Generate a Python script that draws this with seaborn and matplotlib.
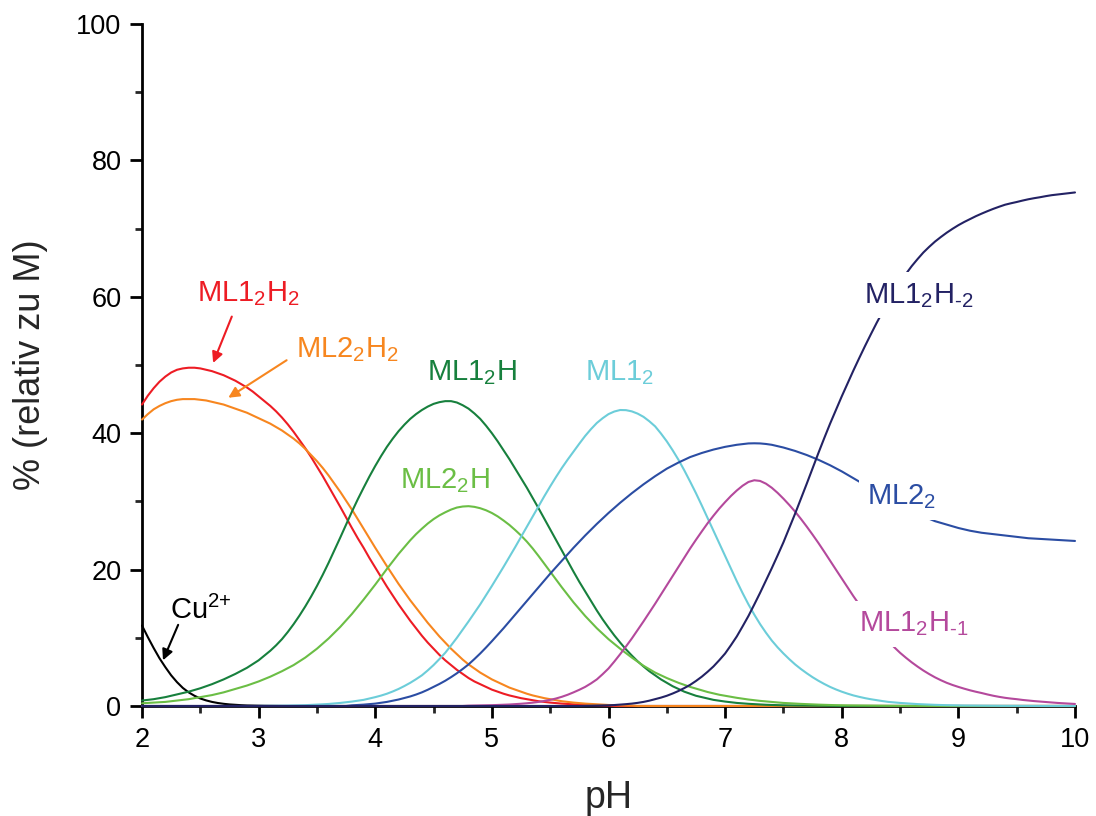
import numpy as np
import pandas as pd
import matplotlib
matplotlib.use("Agg")
import matplotlib.pyplot as plt
from matplotlib.ticker import MultipleLocator
import seaborn as sns

# ---------------- data (pH step 0.05) ----------------
ph = [round(2.0 + 0.05 * i, 2) for i in range(161)]


def full(vals):
    """values not listed past the end of a series are read as 0 %"""
    assert len(vals) <= len(ph)
    return vals + [0.0] * (len(ph) - len(vals))


cu = [11.8, 10.1, 8.5, 7.0, 5.7, 4.5, 3.5, 2.65, 2.0, 1.5, 1.1, 0.82, 0.6, 0.44,
      0.32, 0.23, 0.17, 0.12, 0.08, 0.06, 0.04, 0.03, 0.02, 0.01]

ml1_2h2 = [44.2, 45.5, 46.6, 47.55, 48.3, 48.9, 49.3, 49.5, 49.6, 49.6,
           49.5, 49.3, 49.1, 48.8, 48.5, 48.1, 47.7, 47.2, 46.7, 46.1,
           45.4, 44.7, 44.0, 43.2, 42.3, 41.3, 40.2, 39.0, 37.8, 36.5,
           35.1, 33.7, 32.2, 30.7, 29.2, 27.65, 26.1, 24.6, 23.2, 21.7,
           20.3, 18.9, 17.5, 16.2, 14.9, 13.7, 12.5, 11.4, 10.3, 9.3,
           8.4, 7.5, 6.7, 6.0, 5.3, 4.7, 4.1, 3.6, 3.2, 2.8,
           2.4, 2.1, 1.8, 1.55, 1.35, 1.15, 1.0, 0.85, 0.7, 0.6,
           0.5, 0.42, 0.35, 0.3, 0.25, 0.2, 0.15, 0.12, 0.1, 0.07, 0.05]

ml2_2h2 = [42.0, 42.8, 43.5, 44.0, 44.4, 44.7, 44.9, 45.0, 45.0, 45.0,
           44.9, 44.8, 44.6, 44.4, 44.2, 43.9, 43.6, 43.3, 43.0, 42.6,
           42.2, 41.8, 41.4, 40.9, 40.4, 39.8, 39.2, 38.5, 37.7, 36.8,
           35.9, 34.9, 33.8, 32.6, 31.4, 30.1, 28.8, 27.4, 26.0, 24.6,
           23.2, 21.85, 20.5, 19.2, 17.9, 16.7, 15.5, 14.4, 13.3, 12.2,
           11.2, 10.2, 9.3, 8.4, 7.6, 6.8, 6.1, 5.5, 4.9, 4.4,
           3.9, 3.5, 3.1, 2.7, 2.4, 2.1, 1.8, 1.55, 1.35, 1.15,
           1.0, 0.85, 0.7, 0.6, 0.5, 0.42, 0.35, 0.3, 0.25, 0.2,
           0.15, 0.12, 0.1, 0.07, 0.05]

ml1_2h = [0.8, 0.9, 1.0, 1.15, 1.3, 1.5, 1.7, 1.9, 2.1, 2.35,
          2.6, 2.9, 3.2, 3.55, 3.9, 4.3, 4.7, 5.15, 5.6, 6.15,
          6.7, 7.4, 8.1, 8.9, 9.8, 10.85, 12.0, 13.25, 14.6, 16.05,
          17.6, 19.25, 21.0, 22.85, 24.7, 26.6, 28.5, 30.3, 32.0, 33.65,
          35.2, 36.65, 38.0, 39.2, 40.3, 41.25, 42.1, 42.8, 43.4, 43.9,
          44.3, 44.55, 44.7, 44.7, 44.5, 44.1, 43.6, 42.9, 42.1, 41.1,
          40.0, 38.8, 37.5, 36.2, 34.8, 33.4, 32.0, 30.5, 29.0, 27.45,
          25.9, 24.35, 22.8, 21.25, 19.7, 18.2, 16.8, 15.4, 14.0, 12.7,
          11.5, 10.35, 9.3, 8.3, 7.4, 6.55, 5.8, 5.1, 4.5, 3.9,
          3.4, 2.9, 2.5, 2.1, 1.8, 1.5, 1.3, 1.1, 0.9, 0.77,
          0.65, 0.55, 0.45, 0.38, 0.32, 0.27, 0.22, 0.18, 0.15, 0.12,
          0.1, 0.08, 0.07, 0.06, 0.05, 0.04, 0.03, 0.025, 0.02]

ml2_2h = [0.4, 0.45, 0.5, 0.55, 0.6, 0.7, 0.8, 0.9, 1.0, 1.15,
          1.3, 1.45, 1.6, 1.8, 2.0, 2.25, 2.5, 2.75, 3.0, 3.3,
          3.6, 3.95, 4.3, 4.7, 5.1, 5.55, 6.0, 6.55, 7.1, 7.75,
          8.4, 9.15, 9.9, 10.75, 11.6, 12.55, 13.5, 14.55, 15.6, 16.7,
          17.8, 18.95, 20.1, 21.2, 22.3, 23.3, 24.3, 25.2, 26.0, 26.75,
          27.4, 27.95, 28.4, 28.8, 29.1, 29.25, 29.3, 29.2, 29.0, 28.7,
          28.3, 27.8, 27.2, 26.55, 25.8, 25.0, 24.1, 23.1, 22.0, 20.85,
          19.7, 18.55, 17.4, 16.3, 15.2, 14.2, 13.2, 12.3, 11.4, 10.6,
          9.8, 9.1, 8.4, 7.75, 7.1, 6.5, 5.9, 5.4, 4.9, 4.5,
          4.1, 3.75, 3.4, 3.1, 2.8, 2.55, 2.3, 2.05, 1.85, 1.65,
          1.5, 1.35, 1.2, 1.07, 0.95, 0.85, 0.75, 0.67, 0.6, 0.52,
          0.45, 0.4, 0.35, 0.31, 0.27, 0.23, 0.2, 0.17, 0.15, 0.12,
          0.1, 0.09, 0.08, 0.07, 0.06, 0.05, 0.04, 0.035, 0.03, 0.025, 0.02]

ml1_2 = [0.0] * 20 + [
          0.02, 0.025, 0.03, 0.04, 0.05, 0.065, 0.08, 0.1, 0.12, 0.16,
          0.2, 0.25, 0.3, 0.37, 0.45, 0.55, 0.65, 0.77, 0.9, 1.1,
          1.3, 1.53, 1.8, 2.13, 2.5, 2.93, 3.4, 3.93, 4.5, 5.22,
          6.0, 6.88, 7.8, 8.88, 10.0, 11.2, 12.4, 13.65, 14.9, 16.25,
          17.6, 19.0, 20.4, 21.85, 23.3, 24.8, 26.3, 27.8, 29.3, 30.77,
          32.2, 33.58, 34.9, 36.13, 37.3, 38.47, 39.6, 40.6, 41.5, 42.2,
          42.8, 43.18, 43.4, 43.38, 43.2, 42.87, 42.4, 41.75, 41.0, 39.95,
          38.8, 37.5, 36.1, 34.55, 32.9, 31.2, 29.4, 27.55, 25.7, 23.85,
          22.0, 20.12, 18.3, 16.55, 14.9, 13.4, 12.0, 10.75, 9.6, 8.6,
          7.7, 6.87, 6.1, 5.42, 4.8, 4.22, 3.7, 3.23, 2.8, 2.43,
          2.1, 1.81, 1.55, 1.34, 1.15, 0.99, 0.85, 0.72, 0.6, 0.52,
          0.45, 0.39, 0.33, 0.28, 0.24, 0.2, 0.17, 0.14, 0.12, 0.1,
          0.09, 0.07, 0.06, 0.05, 0.04, 0.035, 0.03, 0.025, 0.02, 0.015, 0.01]

ml2_2 = [0.0] * 36 + [
          0.1, 0.15, 0.2, 0.27,
          0.35, 0.47, 0.6, 0.77, 0.95, 1.17, 1.4, 1.68, 2.0, 2.38,
          2.8, 3.23, 3.7, 4.23, 4.8, 5.43, 6.1, 6.88, 7.7, 8.58,
          9.5, 10.45, 11.4, 12.4, 13.4, 14.4, 15.4, 16.4, 17.4, 18.4,
          19.4, 20.35, 21.3, 22.25, 23.2, 24.1, 25.0, 25.85, 26.7, 27.5,
          28.3, 29.05, 29.8, 30.5, 31.2, 31.85, 32.5, 33.1, 33.7, 34.25,
          34.8, 35.25, 35.7, 36.1, 36.5, 36.8, 37.1, 37.35, 37.6, 37.8,
          38.0, 38.15, 38.3, 38.4, 38.5, 38.52, 38.5, 38.42, 38.3, 38.1,
          37.9, 37.65, 37.4, 37.1, 36.8, 36.45, 36.1, 35.7, 35.3, 34.85,
          34.4, 33.9, 33.4, 32.9, 32.4, 31.9, 31.4, 30.9, 30.4, 29.95,
          29.5, 29.05, 28.6, 28.2, 27.8, 27.45, 27.1, 26.85, 26.6, 26.35,
          26.1, 25.9, 25.7, 25.55, 25.4, 25.3, 25.2, 25.1, 25.0, 24.9,
          24.8, 24.7, 24.6, 24.55, 24.5, 24.45, 24.4, 24.35, 24.3, 24.25,
          24.2]

ml1_2hm1 = [0.0] * 56 + [
          0.05, 0.065, 0.08, 0.1,
          0.12, 0.15, 0.18, 0.22, 0.27, 0.33, 0.4, 0.49, 0.6, 0.74,
          0.9, 1.1, 1.35, 1.65, 2.0, 2.38, 2.8, 3.32, 3.9, 4.67,
          5.5, 6.52, 7.6, 8.73, 9.9, 11.14, 12.4, 13.7, 15.0, 16.35,
          17.7, 19.05, 20.4, 21.77, 23.1, 24.37, 25.6, 26.8, 27.9, 28.95,
          29.9, 30.8, 31.6, 32.3, 32.85, 33.1, 33.0, 32.6, 32.0, 31.25,
          30.4, 29.48, 28.5, 27.43, 26.3, 25.12, 23.9, 22.62, 21.3, 20.0,
          18.7, 17.4, 16.1, 14.88, 13.7, 12.58, 11.5, 10.48, 9.5, 8.62,
          7.8, 7.08, 6.4, 5.78, 5.2, 4.68, 4.2, 3.78, 3.4, 3.08,
          2.8, 2.54, 2.3, 2.09, 1.9, 1.69, 1.5, 1.34, 1.2, 1.09,
          1.0, 0.89, 0.8, 0.72, 0.65, 0.57, 0.5, 0.45, 0.4, 0.35,
          0.3]

ml1_2hm2 = [0.0] * 76 + [
          0.03, 0.045, 0.06, 0.08,
          0.1, 0.14, 0.2, 0.27, 0.35, 0.46, 0.6, 0.78, 1.0, 1.23,
          1.5, 1.83, 2.2, 2.63, 3.1, 3.67, 4.3, 5.02, 5.8, 6.72,
          7.7, 8.92, 10.2, 11.68, 13.2, 14.88, 16.6, 18.4, 20.2, 22.08,
          24.0, 26.08, 28.2, 30.38, 32.6, 34.86, 37.1, 39.28, 41.4, 43.42,
          45.4, 47.32, 49.2, 51.02, 52.8, 54.52, 56.2, 57.78, 59.3, 60.73,
          62.1, 63.35, 64.5, 65.53, 66.5, 67.33, 68.1, 68.77, 69.4, 69.97,
          70.5, 70.97, 71.4, 71.82, 72.2, 72.56, 72.9, 73.21, 73.5, 73.71,
          73.9, 74.11, 74.3, 74.46, 74.6, 74.76, 74.9, 75.0, 75.1, 75.2,
          75.3]

x_ticks = [2, 3, 4, 5, 6, 7, 8, 9, 10]
y_ticks = [0, 20, 40, 60, 80, 100]

series = [
    ("Cu", cu, "#000000"),
    ("ML1_2H_2", ml1_2h2, "#ED1C24"),
    ("ML2_2H_2", ml2_2h2, "#F7861F"),
    ("ML1_2H", ml1_2h, "#17803D"),
    ("ML2_2H", ml2_2h, "#6BBE45"),
    ("ML1_2", ml1_2, "#6CCDD9"),
    ("ML2_2", ml2_2, "#2B4DA3"),
    ("ML1_2H-1", ml1_2hm1, "#B4499C"),
    ("ML1_2H-2", ml1_2hm2, "#232264"),
]

# ---------------- style ----------------
sns.set_style("ticks")
plt.rcParams["font.family"] = ["Liberation Sans", "DejaVu Sans"]
plt.rcParams["mathtext.fontset"] = "custom"
plt.rcParams["mathtext.rm"] = "Liberation Sans"
plt.rcParams["mathtext.it"] = "Liberation Sans:italic"
plt.rcParams["mathtext.default"] = "regular"

fig = plt.figure(figsize=(10.96, 8.16), dpi=100)
ax = fig.add_axes([142 / 1096, 1 - 706 / 816, (1075 - 142) / 1096, (706 - 24) / 816])

for name, vals, col in series:
    df = pd.DataFrame({"pH": ph, "pct": full(vals)})
    sns.lineplot(data=df, x="pH", y="pct", color=col, lw=1.5, ax=ax,
                 errorbar=None, zorder=3, clip_on=False)

ax.set_xlim(2, 10)
ax.set_ylim(0, 100)
ax.set_xticks(x_ticks)
ax.set_yticks(y_ticks)
ax.xaxis.set_minor_locator(MultipleLocator(0.5))
ax.yaxis.set_minor_locator(MultipleLocator(10))
for s in ["top", "right"]:
    ax.spines[s].set_visible(False)
for s in ["left", "bottom"]:
    ax.spines[s].set_linewidth(2)
    ax.spines[s].set_color("black")
ax.tick_params(which="major", direction="out", length=8.8, width=2,
               labelsize=19.5, pad=6, colors="black")
ax.tick_params(which="minor", direction="out", length=5, width=2)
ax.set_xlabel("pH", fontsize=27, labelpad=20)
ax.set_ylabel("% (relativ zu M)", fontsize=26, labelpad=20)

# ---------------- labels ----------------
fs = 21
box = dict(boxstyle="square,pad=0.3", fc="white", ec="none")
labels = [
    (2.474, 59.3, r"ML1$_{\text{2}}$H$_{\text{2}}$", "#ED1C24", False),
    (3.32, 51.1, r"ML2$_{\text{2}}$H$_{\text{2}}$", "#F7861F", False),
    (4.447, 47.8, r"ML1$_{\text{2}}$H", "#17803D", False),
    (5.80, 47.8, r"ML1$_{\text{2}}$", "#6CCDD9", False),
    (4.21, 31.9, r"ML2$_{\text{2}}$H", "#6BBE45", False),
    (8.19, 59.1, r"ML1$_{\text{2}}$H$_{\text{-2}}$", "#232264", True),
    (8.22, 29.6, r"ML2$_{\text{2}}$", "#2B4DA3", True),
    (8.15, 10.9, r"ML1$_{\text{2}}$H$_{\text{-1}}$", "#B4499C", True),
    (2.24, 12.8, r"Cu$^{\text{2+}}$", "#000000", False),
]
for x, y, t, c, b in labels:
    ax.text(x, y, t, color=c, fontsize=fs, ha="left", va="baseline",
            zorder=5, bbox=box if b else None)

arrow_kw = dict(arrowstyle="-|>", lw=1.5, mutation_scale=16, shrinkA=0, shrinkB=0)
ax.annotate("", xy=(2.61, 50.3), xytext=(2.77, 57.1),
            arrowprops=dict(color="#ED1C24", **arrow_kw), zorder=5)
ax.annotate("", xy=(2.74, 45.2), xytext=(3.24, 50.7),
            arrowprops=dict(color="#F7861F", **arrow_kw), zorder=5)
ax.annotate("", xy=(2.18, 6.7), xytext=(2.31, 11.9),
            arrowprops=dict(color="#000000", **arrow_kw), zorder=5)

fig.savefig("out.png", dpi=100)
